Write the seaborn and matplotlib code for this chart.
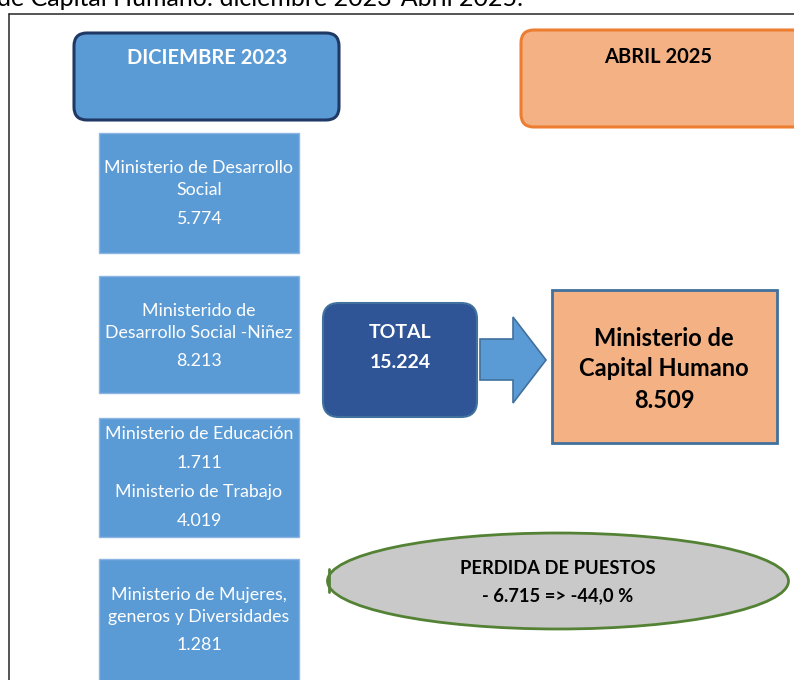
import matplotlib
matplotlib.use("Agg")
import matplotlib.pyplot as plt
import seaborn as sns
from matplotlib.patches import FancyBboxPatch, Rectangle, Ellipse, Polygon

sns.set_theme(style="white")
plt.rcParams['font.family'] = ['Lato', 'DejaVu Sans']

# ---- data ----
title_text = "de Capital Humano: diciembre 2023-Abril 2025."
period_labels = ["DICIEMBRE 2023", "ABRIL 2025"]
box_names = [
    ["Ministerio de Desarrollo", "Social"],
    ["Ministerido de", "Desarrollo Social -Niñez"],
    ["Ministerio de Educación"],
    ["Ministerio de Mujeres,", "generos y Diversidades"],
]
box_values = ["5.774", "8.213", "1.711", "1.281"]
extra_name = "Ministerio de Trabajo"
extra_value = "4.019"
total_label = "TOTAL"
total_value = "15.224"
new_name = ["Ministerio de", "Capital Humano"]
new_value = "8.509"
loss_title = "PERDIDA DE PUESTOS"
loss_text = "- 6.715 => -44,0 %"

W, H = 794, 680
fig = plt.figure(figsize=(W / 100, H / 100), dpi=100)
ax = fig.add_axes([0, 0, 1, 1])
ax.set_xlim(0, W)
ax.set_ylim(H, 0)
ax.axis("off")

BLUE = "#5B9BD5"
NAVY = "#1F3864"
ORANGE = "#F4B183"
ORANGE_EDGE = "#ED7D31"
DARK = "#2F5597"

# title (cut at top, as in the reference)
ax.text(-3, 6, title_text, fontsize=18, ha="left", va="baseline", color="black")

# outer frame
ax.plot([9, 9], [14, H + 5], color="#262626", lw=1.1)
ax.plot([9, W + 5], [14, 14], color="#262626", lw=1.1)

# period headers
ax.add_patch(FancyBboxPatch((74, 33), 265, 87, boxstyle="round,pad=0,rounding_size=13",
                            fc=BLUE, ec=NAVY, lw=2.2))
ax.text(207, 58, period_labels[0], ha="center", va="center", fontsize=14.5,
        fontweight="bold", color="white")
ax.add_patch(FancyBboxPatch((521, 30), 285, 97, boxstyle="round,pad=0,rounding_size=13",
                            fc=ORANGE, ec=ORANGE_EDGE, lw=2.2))
ax.text(658, 57, period_labels[1], ha="center", va="center", fontsize=14.5,
        fontweight="bold", color="black")

# left ministry boxes
tops = [133, 276, 418, 559]
bottoms = [253, 393, 537, 690]
line_y = [[168, 190, 219], [311, 333, 361], [434, 463], [595, 617, 645]]
for i, (t, b) in enumerate(zip(tops, bottoms)):
    ax.add_patch(Rectangle((99, t), 200, b - t, fc=BLUE, ec="#8DB4E2", lw=1))
    lines = box_names[i] + [box_values[i]]
    for txt, y in zip(lines, line_y[i]):
        ax.text(199, y, txt, ha="center", va="center", fontsize=12.8, color="white")
ax.text(199, 492, extra_name, ha="center", va="center", fontsize=12.8, color="white")
ax.text(199, 521, extra_value, ha="center", va="center", fontsize=12.8, color="white")

# total box
ax.add_patch(FancyBboxPatch((323, 303), 154, 114, boxstyle="round,pad=0,rounding_size=16",
                            fc=DARK, ec="#41719C", lw=1.5))
ax.text(400, 333, total_label, ha="center", va="center", fontsize=14,
        fontweight="bold", color="white")
ax.text(400, 363, total_value, ha="center", va="center", fontsize=14,
        fontweight="bold", color="white")

# arrow
ax.add_patch(Polygon([(480, 339), (513, 339), (513, 317), (546, 360), (513, 403),
                      (513, 380), (480, 380)], closed=True, fc=BLUE, ec="#41719C", lw=1.2))

# capital humano box
ax.add_patch(Rectangle((552, 290), 225, 153, fc=ORANGE, ec="#41719C", lw=2))
ax.text(664, 338, new_name[0], ha="center", va="center", fontsize=17,
        fontweight="bold", color="black")
ax.text(664, 369, new_name[1], ha="center", va="center", fontsize=17,
        fontweight="bold", color="black")
ax.text(664, 400, new_value, ha="center", va="center", fontsize=17,
        fontweight="bold", color="black")

# ellipse
ax.add_patch(Ellipse((558, 581), 461, 96, fc="#C9C9C9", ec="#548235", lw=2))
ax.plot([329, 329], [569, 592], color="#548235", lw=2)
ax.text(558, 569, loss_title, ha="center", va="center", fontsize=13.2,
        fontweight="bold", color="black")
ax.text(558, 596, loss_text, ha="center", va="center", fontsize=13.2,
        fontweight="bold", color="black")

fig.savefig("out.png", dpi=100)
